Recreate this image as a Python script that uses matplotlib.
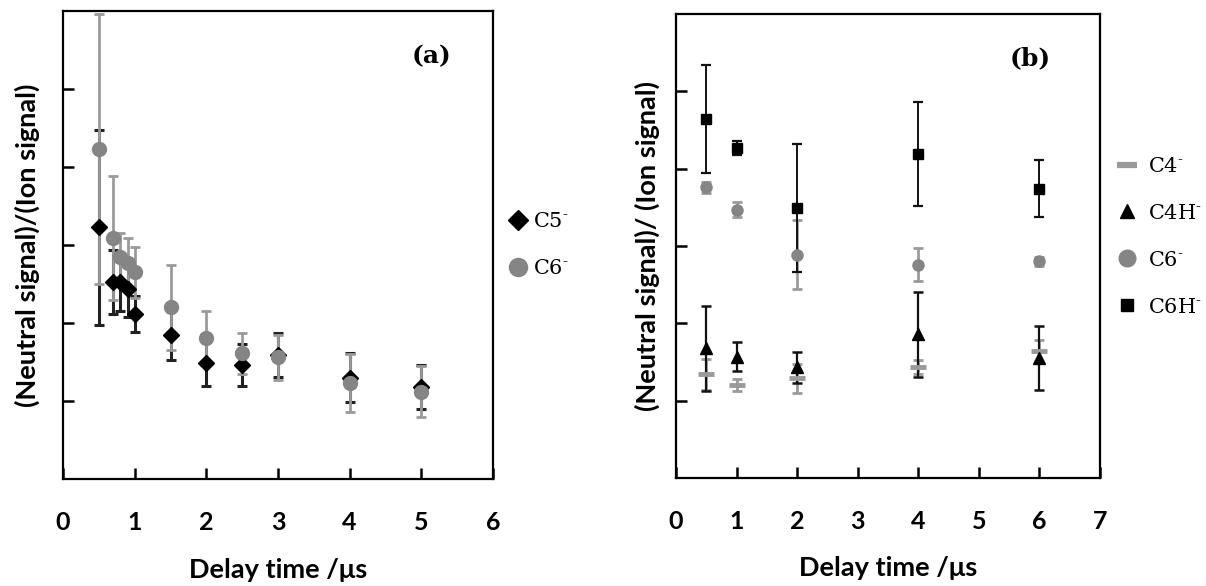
import matplotlib
matplotlib.use("Agg")
import matplotlib.pyplot as plt
from matplotlib.lines import Line2D

# ---------------- data ----------------
# Panel (a)
a_x = [0.5, 0.7, 0.8, 0.9, 1.0, 1.5, 2, 2.5, 3, 4, 5]
a_c5 = [3.23, 2.53, 2.53, 2.43, 2.12, 1.84, 1.49, 1.46, 1.59, 1.30, 1.18]
a_c5_err = [1.25, 0.41, 0.37, 0.35, 0.23, 0.31, 0.30, 0.27, 0.28, 0.31, 0.28]
a_c6 = [4.23, 3.09, 2.85, 2.77, 2.65, 2.20, 1.81, 1.61, 1.56, 1.23, 1.12]
a_c6_err = [1.73, 0.80, 0.31, 0.32, 0.33, 0.54, 0.35, 0.26, 0.29, 0.37, 0.33]
a_xticks = [0, 1, 2, 3, 4, 5, 6]

# Panel (b)
b_x = [0.5, 1, 2, 4, 6]
b_c4 = [1.34, 1.20, 1.29, 1.44, 1.64]
b_c4_err = [0.20, 0.08, 0.19, 0.09, 0.14]
b_c4h = [1.68, 1.57, 1.43, 1.86, 1.55]
b_c4h_err = [0.55, 0.19, 0.20, 0.55, 0.41]
b_c6 = [3.76, 3.47, 2.89, 2.76, 2.80]
b_c6_err = [0.07, 0.10, 0.44, 0.21, 0.06]
b_c6h = [4.64, 4.27, 3.49, 4.19, 3.74]
b_c6h_err = [0.70, 0.09, 0.83, 0.67, 0.37]
b_xticks = [0, 1, 2, 3, 4, 5, 6, 7]

y_ticks = [1, 2, 3, 4, 5]

SUP = "$^{\u2010}$"
lab_a = ["C5" + SUP, "C6" + SUP]
lab_b = ["C4" + SUP, "C4H" + SUP, "C6" + SUP, "C6H" + SUP]

# ---------------- style ----------------
plt.rcParams["mathtext.fontset"] = "dejavuserif"
SANS = ["Lato", "DejaVu Sans"]
SERIF = ["DejaVu Serif"]
GRAY = "#858585"
GRAY_ERR = "#9a9a9a"
DARK = "#111111"
LABEL_FS = 19.5
TICK_FS = 18
LEG_FS = 15

W, H = 1206, 586
fig = plt.figure(figsize=(W / 100, H / 100), dpi=100)


def make_axes(l, r, t, b):
    return fig.add_axes([l / W, 1 - b / H, (r - l) / W, (b - t) / H])


def style_axes(ax, xticks, xmax, ylabel, lx):
    ax.set_xlim(0, xmax)
    ax.set_ylim(0, 6)
    ax.set_xticks(xticks)
    ax.set_xticklabels([str(v) for v in xticks], fontfamily=SANS,
                       fontweight="bold", fontsize=TICK_FS)
    ax.set_yticks(y_ticks)
    ax.set_yticklabels([])
    ax.tick_params(direction="in", length=8, width=1.8, colors="black")
    ax.tick_params(axis="x", pad=23)
    for s in ax.spines.values():
        s.set_linewidth(1.6)
        s.set_color("black")
    ax.set_xlabel("Delay time /\u03bcs", fontfamily=SANS, fontweight="bold",
                  fontsize=LABEL_FS, va="center")
    ax.xaxis.set_label_coords(0.5, -0.195)
    ax.set_ylabel(ylabel, fontfamily=SANS, fontweight="bold",
                  fontsize=LABEL_FS, va="center")
    ax.yaxis.set_label_coords(lx, 0.5)


# ---------------- panel (a) ----------------
axa = make_axes(63, 493, 11, 479)
axa.errorbar(a_x, a_c5, yerr=a_c5_err, fmt="none", ecolor="#222222",
             elinewidth=2.2, capsize=3.5, capthick=2.2, zorder=2)
axa.errorbar(a_x, a_c6, yerr=a_c6_err, fmt="none", ecolor=GRAY_ERR,
             elinewidth=2.0, capsize=3.5, capthick=2.0, zorder=2)
axa.plot(a_x, a_c5, linestyle="none", marker="D", markersize=8,
         color="black", zorder=3)
axa.plot(a_x, a_c6, linestyle="none", marker="o", markersize=10,
         color=GRAY, zorder=4)
style_axes(axa, a_xticks, 6, "(Neutral signal)/(Ion signal)", -0.084)
axa.text((432 - 63) / 430, (479 - 56) / 468, "(a)", transform=axa.transAxes,
         ha="center", va="center", fontfamily=SERIF, fontweight="bold",
         fontsize=18)
ha = [Line2D([], [], linestyle="none", marker="D", markersize=10, color="black"),
      Line2D([], [], linestyle="none", marker="o", markersize=13, color=GRAY)]
axa.legend(ha, lab_a, loc="center left", bbox_to_anchor=(1.02, 0.5),
           frameon=False, handlelength=0.8, handletextpad=0.3,
           labelspacing=1.36, borderaxespad=0,
           prop={"family": SERIF, "size": LEG_FS})

# ---------------- panel (b) ----------------
axb = make_axes(676, 1100, 14, 478)
axb.errorbar(b_x, b_c4, yerr=b_c4_err, fmt="none", ecolor=GRAY_ERR,
             elinewidth=2.0, capsize=3.5, capthick=2.0, zorder=2)
axb.errorbar(b_x, b_c6, yerr=b_c6_err, fmt="none", ecolor=GRAY_ERR,
             elinewidth=2.0, capsize=3.5, capthick=2.0, zorder=2)
axb.errorbar(b_x, b_c4h, yerr=b_c4h_err, fmt="none", ecolor=DARK,
             elinewidth=1.6, capsize=3.5, capthick=1.8, zorder=2.5)
axb.errorbar(b_x, b_c6h, yerr=b_c6h_err, fmt="none", ecolor=DARK,
             elinewidth=1.4, capsize=3.5, capthick=1.6, zorder=2.5)
axb.plot(b_x, b_c4, linestyle="none", marker="_", markersize=11,
         markeredgewidth=3.5, color=GRAY_ERR, zorder=3)
axb.plot(b_x, b_c6, linestyle="none", marker="o", markersize=8,
         color=GRAY, zorder=3)
axb.plot(b_x, b_c4h, linestyle="none", marker="^", markersize=9,
         color="black", zorder=3)
axb.plot(b_x, b_c6h, linestyle="none", marker="s", markersize=7,
         color="black", zorder=3)
style_axes(axb, b_xticks, 7, "(Neutral signal)/ (Ion signal)", -0.068)
axb.text((1030 - 676) / 424, (478 - 58) / 464, "(b)", transform=axb.transAxes,
         ha="center", va="center", fontfamily=SERIF, fontweight="bold",
         fontsize=18)
hb = [Line2D([], [], linestyle="none", marker="_", markersize=14,
             markeredgewidth=4.5, color=GRAY_ERR),
      Line2D([], [], linestyle="none", marker="^", markersize=10, color="black"),
      Line2D([], [], linestyle="none", marker="o", markersize=12, color=GRAY),
      Line2D([], [], linestyle="none", marker="s", markersize=8, color="black")]
axb.legend(hb, lab_b, loc="center left", bbox_to_anchor=(1.02, 0.52),
           frameon=False, handlelength=1.0, handletextpad=0.5,
           labelspacing=1.34, borderaxespad=0,
           prop={"family": SERIF, "size": LEG_FS})

fig.savefig("out.png", dpi=100)
